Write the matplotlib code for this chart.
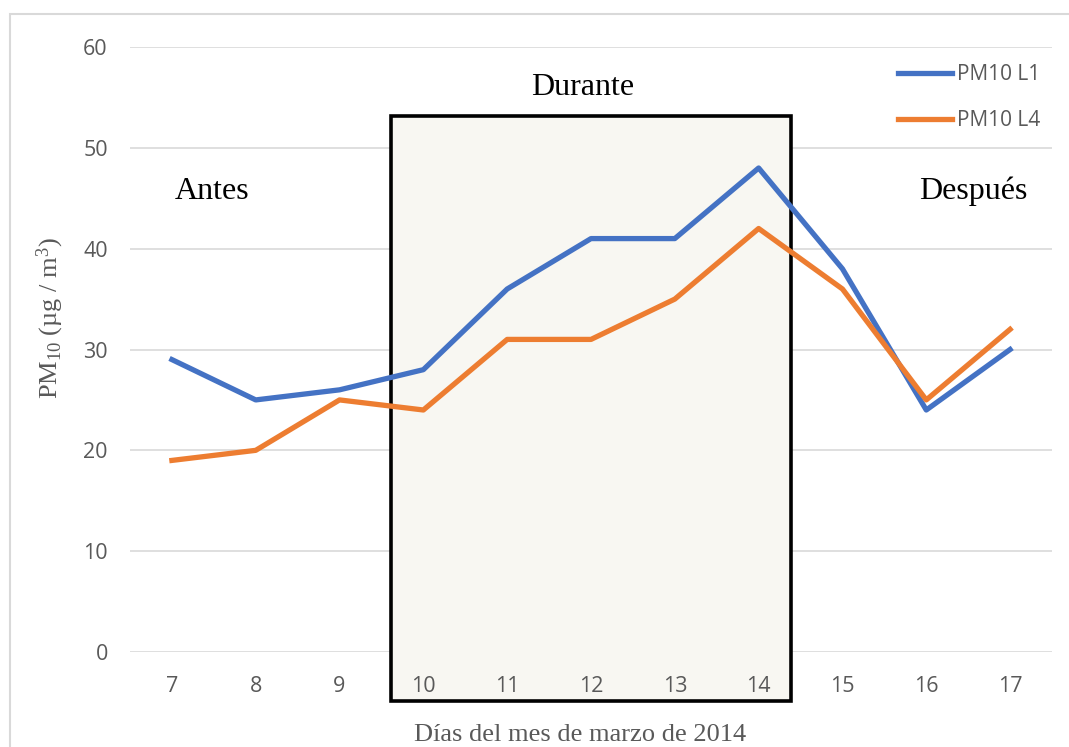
import numpy as np
import matplotlib
matplotlib.use("Agg")
import matplotlib.pyplot as plt
from matplotlib.patches import Rectangle

# --- data ---
days = ["7", "8", "9", "10", "11", "12", "13", "14", "15", "16", "17"]
pm10_l1 = [29, 25, 26, 28, 36, 41, 41, 48, 38, 24, 30]
pm10_l4 = [19, 20, 25, 24, 31, 31, 35, 42, 36, 25, 32]
yticks = [0, 10, 20, 30, 40, 50, 60]

BLUE = "#4472C4"
ORANGE = "#ED7D31"
GRID = "#D9D9D9"
TXT = "#595959"
SERIF = ["Liberation Serif", "DejaVu Serif"]
SANS = ["Open Sans", "DejaVu Sans"]

plt.rcParams["font.family"] = SANS
plt.rcParams["mathtext.fontset"] = "custom"
plt.rcParams["mathtext.rm"] = "Liberation Serif"
plt.rcParams["mathtext.it"] = "Liberation Serif:italic"

W, H = 1069, 747
fig = plt.figure(figsize=(W / 100, H / 100), dpi=100)
ax = fig.add_axes([130 / W, 1 - 652 / H, (1052 - 130) / W, (652 - 47) / H])

# outer chart border
fig.patches.append(Rectangle((10 / W, -0.1), 1.2, 1 - 14 / H + 0.1,
                             transform=fig.transFigure, fill=False,
                             edgecolor=GRID, linewidth=1.5))

x = np.arange(len(days))
ax.set_xlim(-0.5, len(days) - 0.5)
ax.set_ylim(0, 60)

# "Durante" box
ax.add_patch(Rectangle((2.61, -4.85), 7.39 - 2.61, 53.2 + 4.85,
                       facecolor="#F8F7F2", edgecolor="black", linewidth=2.6,
                       clip_on=False, zorder=1))

for yv in yticks:
    ax.axhline(yv, color=GRID, linewidth=1.2, zorder=0.5)

ax.plot(x, pm10_l1, color=BLUE, linewidth=3.8, label="PM10 L1", zorder=3,
        solid_joinstyle="round")
ax.plot(x, pm10_l4, color=ORANGE, linewidth=3.8, label="PM10 L4", zorder=3,
        solid_joinstyle="round")

ax.set_xticks(x)
ax.set_xticklabels(days)
ax.set_yticks(yticks)
ax.tick_params(length=0, labelsize=15.5, colors=TXT)
ax.tick_params(axis="x", pad=17)
ax.tick_params(axis="y", pad=16)
for s in ax.spines.values():
    s.set_visible(False)
ax.set_facecolor("none")

ax.text(4.906, 56.0, "Durante", family=SERIF, fontsize=23, ha="center", va="center")
ax.text(0.48, 45.7, "Antes", family=SERIF, fontsize=23, ha="center", va="center")
ax.text(9.56, 45.7, "Después", family=SERIF, fontsize=23, ha="center", va="center")

fig.text(580 / W, 1 - 735 / H, "Días del mes de marzo de 2014", family=SERIF,
         fontsize=19, color=TXT, ha="center", va="center")
fig.text(50 / W, 1 - 318 / H, "PM$_{10}$ (µg / m$^{3}$)", family=SERIF,
         fontsize=19, color=TXT, ha="center", va="center", rotation=90)

leg = ax.legend(loc="upper left", bbox_to_anchor=(0.833, 0.972), frameon=False,
                borderaxespad=0, borderpad=0,
                handlelength=2.6, labelspacing=1.2, handletextpad=0.25,
                prop={"family": SANS, "size": 15})
for t in leg.get_texts():
    t.set_color(TXT)

fig.savefig("out.png", dpi=100)
